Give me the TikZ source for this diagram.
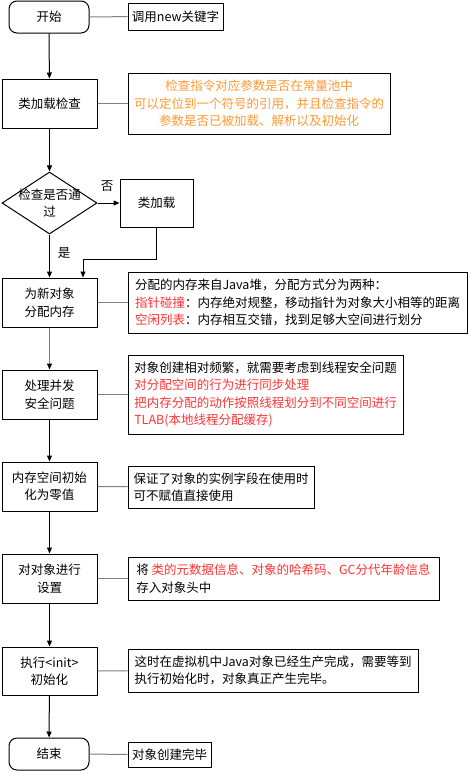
\documentclass[tikz,border=0pt]{standalone}
\usepackage{fontspec}
\setmainfont{Noto Sans CJK SC}
\usetikzlibrary{shapes.geometric,arrows.meta}
\definecolor{noteorange}{HTML}{FF9933}
\definecolor{notered}{HTML}{FF3333}
\tikzset{
 stepbox/.style={draw,line width=1pt,minimum width=95pt,minimum height=49pt,inner sep=0pt,align=center},
 endbox/.style={draw,line width=1pt,rounded corners=8pt,minimum width=80pt,minimum height=32pt,inner sep=0pt},
 notebox/.style={draw,line width=1pt,inner sep=0pt,align=left},
 decision/.style={draw,diamond,line width=1pt,aspect=1.53,minimum width=95pt,minimum height=62pt,inner sep=0pt},
 arr/.style={line width=1pt,-{Triangle[width=5pt,length=6pt]}},
 link/.style={gray,line width=1pt},
}
\begin{document}
\begin{tikzpicture}[x=1pt,y=-1pt,font=\fontsize{12.5}{17.5}\selectfont]
 \useasboundingbox (0,0) rectangle (468,771);
 \node[endbox] (start) at (49,17) {开始};
 \node[stepbox] (clsck) at (49.5,103.5) {类加载检查};
 \node[decision] (chk) at (49.5,203) {};
 \node[align=center,inner sep=0pt] (chktxt) at (chk) {检查是否通\\过};
 \node[stepbox,minimum width=73pt,minimum height=48pt] (load) at (156.5,203) {类加载};
 \node[stepbox] (alloc) at (49.5,302.5) {为新对象\\分配内存};
 \node[stepbox] (conc) at (49.5,394.5) {处理并发\\安全问题};
 \node[stepbox] (zero) at (49.5,486.5) {内存空间初始\\化为零值};
 \node[stepbox] (hdr) at (49.5,578.5) {对对象进行\\设置};
 \node[stepbox,minimum height=48pt] (init) at (49.5,671) {执行<init>\\初始化};
 \node[endbox] (stop) at (49,754) {结束};
 \node[notebox,minimum width=95pt,minimum height=27pt] (n1) at (175.5,16.5) {调用new关键字};
 \node[notebox,align=center,text=noteorange,minimum width=262pt,minimum height=61pt] (n2) at (259,103.5) {检查指令对应参数是否在常量池中\\可以定位到一个符号的引用，并且检查指令的\\参数是否已被加载、解析以及初始化};
 \node[notebox,minimum width=339pt,minimum height=61pt] (n3) at (297.5,302.5) {分配的内存来自Java堆，分配方式分为两种：\\{\color{notered}指针碰撞}：内存绝对规整，移动指针为对象大小相等的距离\\{\color{notered}空闲列表}：内存相互交错，找到足够大空间进行划分};
 \node[notebox,minimum width=275pt,minimum height=79pt] (n4) at (265.5,394.5) {对象创建相对频繁，就需要考虑到线程安全问题\\{\color{notered}对分配空间的行为进行同步处理}\\{\color{notered}把内存分配的动作按照线程划分到不同空间进行}\\{\color{notered}TLAB(本地线程分配缓存)}};
 \node[notebox,minimum width=186pt,minimum height=42pt] (n5) at (221,487) {保证了对象的实例字段在使用时\\可不赋值直接使用};
 \node[notebox,minimum width=311pt,minimum height=43pt] (n6) at (283.5,578.5) {将 {\color{notered}类的元数据信息、对象的哈希码、GC分代年龄信息}\\存入对象头中};
 \node[notebox,minimum width=290pt,minimum height=43pt] (n7) at (273,670.5) {这时在虚拟机中Java对象已经生产完成，需要等到\\执行初始化时，对象真正产生完毕。};
 \node[notebox,minimum width=83pt,minimum height=25pt] (n8) at (169.5,754.5) {对象创建完毕};
 \node (no) at (107,186) {否};
 \node (yes) at (64,253) {是};
 \draw[arr] (start) -- (clsck);
 \draw[arr] (clsck) -- (chk);
 \draw[arr] (chk) -- (load);
 \draw[arr] (chk) -- (alloc);
 \draw[arr] (load.south) -- ++(0,32) -| ([xshift=33.5pt]alloc.north);
 \draw[arr,gray,-{Triangle[width=5pt,length=6pt,black]}] (alloc) -- (conc);
 \draw[arr] (conc) -- (zero);
 \draw[arr] (zero) -- (hdr);
 \draw[arr] (hdr) -- (init);
 \draw[arr] (init) -- (stop);
 \draw[link] (start) -- (n1);
 \draw[link] (clsck) -- (n2);
 \draw[link] (alloc) -- (n3);
 \draw[link] (conc) -- (n4);
 \draw[link] (zero) -- (n5);
 \draw[link] (hdr) -- (n6);
 \draw[link] (init) -- (n7);
 \draw[link] (stop) -- (n8);
\end{tikzpicture}
\end{document}
